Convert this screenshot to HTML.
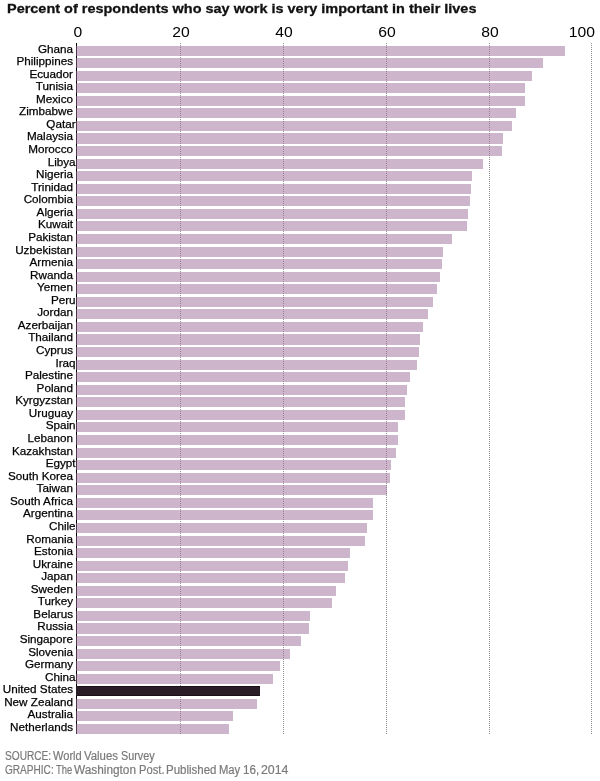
<!DOCTYPE html>
<html><head><meta charset="utf-8"><title>chart</title>
<style>
html,body{margin:0;padding:0;background:#fff;}
body{width:600px;height:781px;position:relative;overflow:hidden;font-family:"Liberation Sans",sans-serif;color:#111;}
.t{position:absolute;left:6.5px;top:1px;-webkit-text-stroke:0.3px #111;font-weight:bold;font-size:13.5px;transform:scaleX(1.0715);line-height:16px;white-space:nowrap;color:#111;transform-origin:0 0;}
.tk{position:absolute;top:24px;font-size:14px;line-height:16px;width:40px;text-align:center;color:#000;transform:scaleX(1.12);}
.b{position:absolute;left:76px;height:10px;background:#cdb5cb;border-left:1px solid #503850;}
.b.d{background:#2a1d28;border-left-color:#2a1d28;box-shadow:inset 0 1px 0 #1c1019,inset 0 -1px 0 #1c1019;}
.b.o,.b.e{background-image:linear-gradient(to bottom,#9a7e98 0,#9a7e98 1px,transparent 1px,transparent 2px),linear-gradient(to bottom,#9a7e98 0,#9a7e98 1px,transparent 1px,transparent 2px),linear-gradient(to bottom,#9a7e98 0,#9a7e98 1px,transparent 1px,transparent 2px),linear-gradient(to bottom,#9a7e98 0,#9a7e98 1px,transparent 1px,transparent 2px);background-size:1px 2px;background-repeat:repeat-y;}
.b.o{background-position:103px 0,206px 0,309px 0,412px 0;}
.b.e{background-position:103px 1px,206px 1px,309px 1px,412px 1px;}
.l{position:absolute;left:0;width:73px;text-align:right;font-size:11.7px;line-height:12px;white-space:nowrap;color:#000;-webkit-text-stroke:0.25px #000;transform:translateY(-0.4px);}
.g{position:absolute;top:43px;width:1px;height:691px;background:repeating-linear-gradient(to bottom,#909090 0,#909090 1px,transparent 1px,transparent 2px);}
.ax{position:absolute;left:76px;top:43px;width:1px;height:691px;background:#000;}
.f{position:absolute;left:5px;font-size:12px;line-height:14px;color:#7a7a7a;-webkit-text-stroke:0.2px #7a7a7a;white-space:nowrap;transform-origin:0 0;}
#w{position:absolute;left:0;top:0;width:600px;height:781px;will-change:transform;}
</style></head><body><div id="w">
<div class="t" id="title">Percent of respondents who say work is very important in their lives</div>
<div class="tk" style="left:58px">0</div>
<div class="tk" style="left:161px">20</div>
<div class="tk" style="left:264px">40</div>
<div class="tk" style="left:367px">60</div>
<div class="tk" style="left:470px">80</div>
<div class="tk" style="left:555px;text-align:right;transform-origin:100% 50%">100</div>
<div class="g" style="left:180px"></div>
<div class="g" style="left:283px"></div>
<div class="g" style="left:386px"></div>
<div class="g" style="left:489px"></div>
<div class="g" style="left:591px"></div>
<div class="ax"></div>
<div class="b e" style="top:46px;width:488px"></div><div class="l" style="top:43px">Ghana</div>
<div class="b e" style="top:58px;width:466px"></div><div class="l" style="top:55px">Philippines</div>
<div class="b o" style="top:71px;width:455px"></div><div class="l" style="top:68px">Ecuador</div>
<div class="b o" style="top:83px;width:448px"></div><div class="l" style="top:80px">Tunisia</div>
<div class="b e" style="top:96px;width:448px"></div><div class="l" style="top:93px">Mexico</div>
<div class="b e" style="top:108px;width:439px"></div><div class="l" style="top:105px">Zimbabwe</div>
<div class="b o" style="top:121px;width:435px"></div><div class="l" style="top:118px;width:75.6px">Qatar</div>
<div class="b o" style="top:133px;width:426px;height:11px"></div><div class="l" style="top:130px">Malaysia</div>
<div class="b e" style="top:146px;width:425px"></div><div class="l" style="top:143px">Morocco</div>
<div class="b o" style="top:159px;width:406px"></div><div class="l" style="top:156px;width:75.6px">Libya</div>
<div class="b o" style="top:171px;width:395px"></div><div class="l" style="top:168px">Nigeria</div>
<div class="b e" style="top:184px;width:394px"></div><div class="l" style="top:181px">Trinidad</div>
<div class="b e" style="top:196px;width:393px"></div><div class="l" style="top:193px">Colombia</div>
<div class="b o" style="top:209px;width:391px"></div><div class="l" style="top:206px">Algeria</div>
<div class="b o" style="top:221px;width:390px"></div><div class="l" style="top:218px">Kuwait</div>
<div class="b e" style="top:234px;width:375px"></div><div class="l" style="top:231px">Pakistan</div>
<div class="b o" style="top:247px;width:366px"></div><div class="l" style="top:244px">Uzbekistan</div>
<div class="b o" style="top:259px;width:365px"></div><div class="l" style="top:256px">Armenia</div>
<div class="b e" style="top:272px;width:363px"></div><div class="l" style="top:269px">Rwanda</div>
<div class="b e" style="top:284px;width:360px"></div><div class="l" style="top:281px">Yemen</div>
<div class="b o" style="top:297px;width:356px"></div><div class="l" style="top:294px;width:75.6px">Peru</div>
<div class="b o" style="top:309px;width:351px"></div><div class="l" style="top:306px">Jordan</div>
<div class="b e" style="top:322px;width:346px"></div><div class="l" style="top:319px">Azerbaijan</div>
<div class="b e" style="top:334px;width:343px;height:11px"></div><div class="l" style="top:331px">Thailand</div>
<div class="b o" style="top:347px;width:342px"></div><div class="l" style="top:344px">Cyprus</div>
<div class="b e" style="top:360px;width:340px"></div><div class="l" style="top:357px;width:75.6px">Iraq</div>
<div class="b e" style="top:372px;width:333px"></div><div class="l" style="top:369px">Palestine</div>
<div class="b o" style="top:385px;width:330px"></div><div class="l" style="top:382px">Poland</div>
<div class="b o" style="top:397px;width:328px"></div><div class="l" style="top:394px">Kyrgyzstan</div>
<div class="b e" style="top:410px;width:328px"></div><div class="l" style="top:407px">Uruguay</div>
<div class="b e" style="top:422px;width:321px"></div><div class="l" style="top:419px;width:75.6px">Spain</div>
<div class="b o" style="top:435px;width:321px"></div><div class="l" style="top:432px">Lebanon</div>
<div class="b e" style="top:448px;width:319px"></div><div class="l" style="top:445px">Kazakhstan</div>
<div class="b e" style="top:460px;width:314px"></div><div class="l" style="top:457px;width:75.6px">Egypt</div>
<div class="b o" style="top:473px;width:313px"></div><div class="l" style="top:470px">South Korea</div>
<div class="b o" style="top:485px;width:310px"></div><div class="l" style="top:482px">Taiwan</div>
<div class="b e" style="top:498px;width:296px"></div><div class="l" style="top:495px">South Africa</div>
<div class="b e" style="top:510px;width:296px"></div><div class="l" style="top:507px">Argentina</div>
<div class="b o" style="top:523px;width:290px"></div><div class="l" style="top:520px;width:75.6px">Chile</div>
<div class="b e" style="top:536px;width:288px"></div><div class="l" style="top:533px">Romania</div>
<div class="b e" style="top:548px;width:273px"></div><div class="l" style="top:545px">Estonia</div>
<div class="b o" style="top:561px;width:271px"></div><div class="l" style="top:558px">Ukraine</div>
<div class="b o" style="top:573px;width:268px"></div><div class="l" style="top:570px">Japan</div>
<div class="b e" style="top:586px;width:259px"></div><div class="l" style="top:583px">Sweden</div>
<div class="b e" style="top:598px;width:255px"></div><div class="l" style="top:595px">Turkey</div>
<div class="b o" style="top:611px;width:233px"></div><div class="l" style="top:608px">Belarus</div>
<div class="b o" style="top:623px;width:232px;height:11px"></div><div class="l" style="top:620px">Russia</div>
<div class="b e" style="top:636px;width:224px"></div><div class="l" style="top:633px">Singapore</div>
<div class="b o" style="top:649px;width:213px"></div><div class="l" style="top:646px">Slovenia</div>
<div class="b o" style="top:661px;width:203px"></div><div class="l" style="top:658px">Germany</div>
<div class="b e" style="top:674px;width:196px"></div><div class="l" style="top:671px;width:75.6px">China</div>
<div class="b d" style="top:686px;width:183px"></div><div class="l" style="top:683px">United States</div>
<div class="b o" style="top:699px;width:180px"></div><div class="l" style="top:696px">New Zealand</div>
<div class="b o" style="top:711px;width:156px"></div><div class="l" style="top:708px">Australia</div>
<div class="b e" style="top:724px;width:152px"></div><div class="l" style="top:721px">Netherlands</div>
<div class="f" style="left:5.20px;top:749px;transform:scaleX(0.8448)">SOURCE:</div><div class="f" style="left:53.15px;top:749px;transform:scaleX(0.9237)">World</div><div class="f" style="left:84.40px;top:749px;transform:scaleX(0.9494)">Values</div><div class="f" style="left:121.40px;top:749px;transform:scaleX(0.9034)">Survey</div>
<div class="f" style="left:5.20px;top:763px;transform:scaleX(0.8394)">GRAPHIC:</div><div class="f" style="left:56.40px;top:763px;transform:scaleX(0.7855)">The</div><div class="f" style="left:74.40px;top:763px;transform:scaleX(0.9851)">Washington</div><div class="f" style="left:138.90px;top:763px;transform:scaleX(0.9320)">Post.</div><div class="f" style="left:166.40px;top:763px;transform:scaleX(0.9579)">Published</div><div class="f" style="left:218.90px;top:763px;transform:scaleX(0.9373)">May</div><div class="f" style="left:243.15px;top:763px;transform:scaleX(0.9738)">16,</div><div class="f" style="left:261.40px;top:763px;transform:scaleX(1.0298)">2014</div>
</div></body></html>
